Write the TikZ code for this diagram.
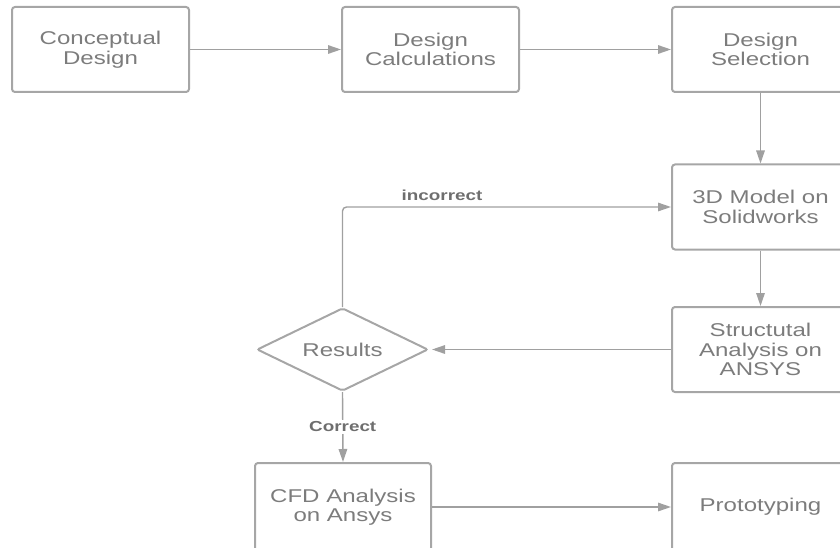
\documentclass[tikz,border=0pt]{standalone}
\usepackage{fontspec}
\setmainfont[FakeStretch=1.3]{Liberation Sans}
\usetikzlibrary{arrows.meta,shapes.geometric}
\definecolor{boxline}{HTML}{A6A6A6}
\definecolor{txtcol}{HTML}{7C7C7C}
\definecolor{conncol}{HTML}{A0A0A0}
\definecolor{lblcol}{HTML}{6E6E6E}
\begin{document}
\begin{tikzpicture}[x=1pt,y=-1pt,
  box/.style={draw=boxline, line width=2pt, rounded corners=3pt,
    minimum width=177pt, minimum height=85pt, inner sep=0pt, align=center,
    text=txtcol, font=\fontsize{18.5}{19.5}\selectfont},
  decision/.style={draw=boxline, line width=2pt, shape=diamond, rounded corners=2pt,
    minimum width=171pt, minimum height=83pt, inner sep=0pt, aspect=2.06,
    text=txtcol, font=\fontsize{18.5}{19.5}\selectfont},
  conn/.style={draw=conncol, line width=1.4pt, -{Triangle[length=13pt,width=8.5pt]}},
  lab/.style={text=lblcol, font=\bfseries\fontsize{14.5}{16}\selectfont, inner sep=1.5pt}]
\useasboundingbox (0,0) rectangle (840,548);
\node[box] (concept) at (100.5,49.5) {Conceptual\\Design};
\node[box] (calc) at (430.5,49.5) {Design\\Calculations};
\node[box] (select) at (760.5,49.5) {Design\\Selection};
\node[box] (model) at (760.5,207) {3D Model on\\Solidworks};
\node[box] (struct) at (760.5,349.5) {Structutal\\Analysis on\\ANSYS};
\node[decision] (results) at (342.5,349.5) {Results};
\node[box, minimum width=176pt, minimum height=88pt] (cfd) at (343,507) {CFD Analysis\\on Ansys};
\node[box, minimum height=88pt] (proto) at (760.5,507) {Prototyping};
\draw[conn] (concept) -- (calc);
\draw[conn] (calc) -- (select);
\draw[conn] (select) -- (model);
\draw[conn] (model) -- (struct);
\draw[conn, shorten >=3pt] (struct) -- (results);
\draw[conn, rounded corners=4pt] (results.north) -- (results.north |- model.west) -- (model.west);
\node[lab] (inc) at (442,195) {incorrect};
\draw[conn] (results.south) -- node[lab, fill=white] (cor) {Correct} (cfd.north);
\draw[conn] (cfd) -- (proto);
\end{tikzpicture}
\end{document}
